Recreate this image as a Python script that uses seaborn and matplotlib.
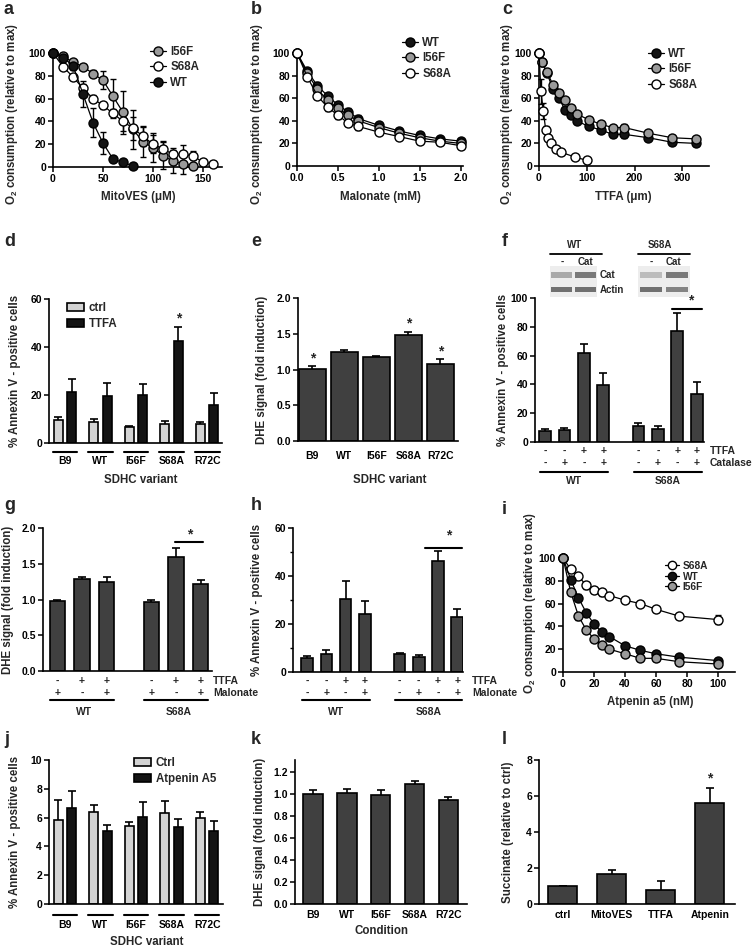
import numpy as np
import pandas as pd
import matplotlib
matplotlib.use("Agg")
import matplotlib.pyplot as plt
import seaborn as sns
from matplotlib.transforms import blended_transform_factory
from matplotlib.lines import Line2D
from matplotlib.patches import Patch, Rectangle

# ---------------- data ----------------
# a: MitoVES titration
a_wt_x = [0, 10, 20, 30, 40, 50, 60, 70, 80]
a_wt_y = [100, 96, 89, 64, 39, 21, 7, 4, 1]
a_wt_err = [0, 2, 4, 11, 13, 10, 2, 1, 1]
a_i56f_x = [0, 10, 20, 30, 40, 50, 60, 70, 80, 90, 100, 110, 120, 130, 140]
a_i56f_y = [100, 97, 92, 88, 82, 76, 62, 48, 33, 22, 17, 10, 5, 3, 1]
a_i56f_err = [0, 1, 2, 2, 3, 8, 15, 19, 17, 13, 13, 12, 10, 9, 2]
a_s68a_x = [0, 10, 20, 30, 40, 50, 60, 70, 80, 90, 100, 110, 120, 130, 140, 150, 160]
a_s68a_y = [100, 88, 79, 69, 60, 54, 47, 40, 34, 27, 20, 16, 11, 11, 10, 4, 3]
a_s68a_err = [0, 2, 3, 4, 3, 3, 4, 8, 10, 9, 8, 7, 6, 8, 4, 3, 2]

# b: Malonate titration
b_x = [0, 0.125, 0.25, 0.375, 0.5, 0.625, 0.75, 1.0, 1.25, 1.5, 1.75, 2.0]
b_wt_y = [100, 84, 71, 62, 54, 48, 42, 36, 31, 27, 24, 22]
b_i56f_y = [100, 82, 68, 58, 51, 45, 40, 34, 29, 25, 22, 20]
b_s68a_y = [100, 79, 62, 52, 45, 38, 35, 30, 26, 22, 21, 18]
b_err = [0, 2, 3, 3, 3, 3, 3, 2, 2, 2, 2, 2]

# c: TTFA titration
c_x = [0, 6, 17, 29, 42, 54, 67, 79, 104, 129, 154, 179, 229, 279, 329]
c_wt_y = [100, 92, 82, 68, 60, 50, 45, 40, 35, 32, 28, 28, 25, 21, 20]
c_i56f_y = [100, 92, 83, 72, 65, 58, 51, 46, 41, 37, 34, 34, 29, 25, 24]
c_err = [0, 2, 2, 2, 2, 2, 2, 2, 2, 2, 2, 3, 2, 2, 2]
c_s68a_x = [0, 4, 9, 14, 19, 25, 35, 47, 75, 100]
c_s68a_y = [100, 66, 49, 32, 25, 20, 15, 12, 8, 5]
c_s68a_err = [0, 11, 7, 3, 2, 2, 2, 1, 1, 1]

# d: Annexin V, ctrl vs TTFA
variants = ['B9', 'WT', 'I56F', 'S68A', 'R72C']
d_ctrl = [9.5, 8.8, 6.7, 8.1, 7.8]
d_ctrl_err = [1.2, 1.0, 0.5, 1.2, 0.8]
d_ttfa = [21.3, 19.4, 20.2, 42.5, 16.0]
d_ttfa_err = [5.2, 5.5, 4.2, 6.0, 5.0]

# e: DHE signal
e_vals = [1.01, 1.25, 1.18, 1.48, 1.08]
e_err = [0.04, 0.02, 0.01, 0.05, 0.07]
e_star = [True, False, False, True, True]

# f: Annexin V, TTFA / catalase
f_pos = [0, 1, 2, 3, 4.8, 5.8, 6.8, 7.8]
f_vals = [7.7, 8.1, 62, 39.5, 11.2, 9.3, 77.2, 33.3]
f_err = [1.6, 1.9, 6, 8.5, 2.1, 1.7, 12.3, 8.6]
f_ttfa = ['-', '-', '+', '+', '-', '-', '+', '+']
f_cat = ['-', '+', '-', '+', '-', '+', '-', '+']
blot_wt_cat = [0.45, 0.7]
blot_wt_actin = [0.75, 0.75]
blot_s68a_cat = [0.35, 0.7]
blot_s68a_actin = [0.75, 0.65]

# g: DHE, TTFA / malonate
g_pos = [0, 1, 2, 3.8, 4.8, 5.8]
g_vals = [0.98, 1.28, 1.24, 0.97, 1.60, 1.21]
g_err = [0.02, 0.03, 0.07, 0.02, 0.12, 0.06]
g_ttfa = ['-', '+', '+', '-', '+', '+']
g_mal = ['+', '-', '+', '+', '-', '+']

# h: Annexin V, TTFA / malonate
h_pos = [0, 1, 2, 3, 4.8, 5.8, 6.8, 7.8]
h_vals = [5.9, 7.7, 30.3, 24.1, 7.4, 6.3, 46.4, 23.0]
h_err = [0.7, 1.6, 7.6, 5.5, 0.5, 0.7, 3.9, 3.1]
h_ttfa = ['-', '-', '+', '+', '-', '-', '+', '+']
h_mal = ['-', '+', '-', '+', '-', '+', '-', '+']

# i: Atpenin A5 titration
i_x = [0, 5, 10, 15, 20, 25, 30, 40, 50, 60, 75, 100]
i_s68a_y = [100, 90, 84, 76, 72, 70, 67, 63, 60, 55, 49, 46]
i_wt_y = [100, 81, 65, 52, 42, 35, 31, 23, 19, 16, 13, 10]
i_i56f_y = [100, 70, 49, 37, 29, 24, 20, 16, 12, 12, 9, 7]
i_s68a_err = [0, 2, 2, 3, 3, 3, 2, 2, 2, 2, 2, 4]
i_err = [0, 2, 3, 2, 2, 2, 2, 2, 2, 2, 2, 2]

# j: Annexin V, ctrl vs Atpenin A5
j_ctrl = [5.8, 6.4, 5.4, 6.35, 5.95]
j_ctrl_err = [1.4, 0.5, 0.27, 0.8, 0.45]
j_atp = [6.7, 5.05, 6.05, 5.37, 5.05]
j_atp_err = [1.15, 0.45, 1.05, 0.5, 0.7]

# k: DHE, atpenin
k_vals = [1.00, 1.01, 0.99, 1.09, 0.945]
k_err = [0.035, 0.033, 0.05, 0.025, 0.024]

# l: succinate
l_cats = ['ctrl', 'MitoVES', 'TTFA', 'Atpenin']
l_vals = [1.0, 1.65, 0.78, 5.6]
l_err = [0.0, 0.24, 0.52, 0.86]
l_star = [False, False, False, True]

# ---------------- style ----------------
W, H = 754, 952
sns.set_theme(style='ticks')
plt.rcParams['font.family'] = ['Liberation Sans', 'DejaVu Sans']
plt.rcParams['font.weight'] = 'bold'
plt.rcParams['axes.labelweight'] = 'bold'
plt.rcParams['mathtext.fontset'] = 'custom'
plt.rcParams['mathtext.rm'] = 'Liberation Sans:bold'
plt.rcParams['mathtext.bf'] = 'Liberation Sans:bold'
plt.rcParams['mathtext.it'] = 'Liberation Sans:bold'

FS = 7.5      # tick labels
LFS = 8.3     # axis labels
DARK = '#404040'
LIGHT = '#d3d3d3'
BLACK = '#141414'
GRAY = '#9a9a9a'

fig = plt.figure(figsize=(W / 100, H / 100), dpi=100)


def rect(x0, top, x1, bottom):
    return [x0 / W, 1 - bottom / H, (x1 - x0) / W, (bottom - top) / H]


def fx(px):
    return px / W


def fy(py):
    return 1 - py / H


def style(ax):
    for s in ['top', 'right']:
        ax.spines[s].set_visible(False)
    for s in ['left', 'bottom']:
        ax.spines[s].set_linewidth(1.2)
        ax.spines[s].set_color('black')
    ax.tick_params(axis='both', which='major', length=3.5, width=1.1,
                   labelsize=FS, pad=1.5, colors='black', direction='out')
    ax.set_facecolor('none')


def ylab(ax, text, px, py, fs=LFS):
    ax.set_ylabel(text, fontsize=fs, fontweight='bold')
    ax.yaxis.set_label_coords(fx(px), fy(py), transform=fig.transFigure)
    ax.yaxis.label.set_va('center')


def xlab(ax, text, px, py):
    ax.set_xlabel(text, fontsize=LFS, fontweight='bold')
    ax.xaxis.set_label_coords(fx(px), fy(py), transform=fig.transFigure)
    ax.xaxis.label.set_va('center')


def curve(ax, x, y, err, fc, label):
    ax.errorbar(x, y, yerr=err, fmt='none', ecolor='black', elinewidth=1.0,
                capsize=2.5, capthick=1.0, zorder=2, clip_on=False)
    sns.lineplot(x=x, y=y, ax=ax, color='black', lw=0.9, marker='o', markersize=6.5,
                 markerfacecolor=fc, markeredgecolor='black', markeredgewidth=1.0,
                 label=label, zorder=3, clip_on=False, legend=False)


def line_legend(ax, names, fcs, px, py, fs=8.3, spacing=0.3, ms=6.5):
    hs = [Line2D([], [], color='black', lw=0.9, marker='o', ms=ms, mfc=fc,
                 mec='black', mew=1.0) for fc in fcs]
    ax.legend(hs, names, loc='upper left', bbox_to_anchor=(fx(px), fy(py)),
              bbox_transform=fig.transFigure, frameon=False, fontsize=fs,
              handlelength=1.4, handletextpad=0.35, labelspacing=spacing,
              borderpad=0, borderaxespad=0)


def bars(ax, pos, vals, errs, width):
    df = pd.DataFrame({'x': pos, 'y': vals})
    sns.barplot(data=df, x='x', y='y', ax=ax, native_scale=True, width=width,
                color=DARK, edgecolor='black', linewidth=1.2, errorbar=None,
                saturation=1)
    ax.errorbar(pos, vals, yerr=errs, fmt='none', ecolor='black', elinewidth=1.2,
                capsize=3, capthick=1.2, zorder=0.5)
    ax.set_xlabel('')
    ax.set_ylabel('')


def grouped(ax, cats, names, v1, e1, v2, e2, colors):
    df = pd.DataFrame({'cat': cats * 2,
                       'grp': [names[0]] * len(cats) + [names[1]] * len(cats),
                       'val': v1 + v2})
    sns.barplot(data=df, x='cat', y='val', hue='grp', order=cats, hue_order=names,
                palette=colors, width=0.76, gap=0.33, edgecolor='black',
                linewidth=1.2, errorbar=None, saturation=1, legend=False, ax=ax)
    conts = list(ax.containers)[:2]
    for cont, vals, errs in zip(conts, [v1, v2], [e1, e2]):
        xs = [p.get_x() + p.get_width() / 2 for p in cont]
        ax.errorbar(xs, vals, yerr=errs, fmt='none', ecolor='black', elinewidth=1.2,
                    capsize=3, capthick=1.2, zorder=0.5)
    ax.set_xlabel('')
    ax.set_ylabel('')


def underline_groups(ax, centers, half, py, lw=1.5):
    tr = blended_transform_factory(ax.transData, fig.transFigure)
    for c in centers:
        ax.plot([c - half, c + half], [fy(py), fy(py)], color='black', lw=lw,
                transform=tr, clip_on=False)


def sign_rows(ax, pos, rows, names, ys, name_x):
    tr = blended_transform_factory(ax.transData, fig.transFigure)
    for row, py, nm in zip(rows, ys, names):
        for p, s in zip(pos, row):
            ax.text(p, fy(py), s, transform=tr, ha='center', va='center',
                    fontsize=FS, fontweight='bold')
        fig.text(fx(name_x), fy(py), nm, ha='left', va='center', fontsize=FS,
                 fontweight='bold')


def sig(ax, x0, x1, y, ystar, xstar):
    ax.plot([x0, x1], [y, y], color='black', lw=1.5, clip_on=False)
    ax.text(xstar, ystar, '*', ha='center', va='center', fontsize=10,
            fontweight='bold', clip_on=False)


def letter(t, px, py):
    fig.text(fx(px), fy(py), t, fontsize=13, fontweight='bold', ha='left', va='center')


O2 = 'O$_{2}$ consumption (relative to max)'
ANX = '% Annexin V - positive cells'
DHE = 'DHE signal (fold induction)'

# ---------------- panel a ----------------
ax = fig.add_axes(rect(53, 53, 222, 167))
curve(ax, a_i56f_x, a_i56f_y, a_i56f_err, GRAY, 'I56F')
curve(ax, a_s68a_x, a_s68a_y, a_s68a_err, 'white', 'S68A')
curve(ax, a_wt_x, a_wt_y, a_wt_err, BLACK, 'WT')
ax.set_xlim(0, 169)
ax.set_ylim(0, 100)
ax.set_xticks([0, 50, 100, 150])
ax.set_yticks(range(0, 101, 20))
style(ax)
xlab(ax, 'MitoVES (\u03bcM)', 138, 197)
ylab(ax, O2, 12, 114)
line_legend(ax, ['I56F', 'S68A', 'WT'], [GRAY, 'white', BLACK], 150, 46)
letter('a', 4, 9)

# ---------------- panel b ----------------
ax = fig.add_axes(rect(297, 53, 463, 166))
curve(ax, b_x, b_wt_y, b_err, BLACK, 'WT')
curve(ax, b_x, b_i56f_y, b_err, GRAY, 'I56F')
curve(ax, b_x, b_s68a_y, b_err, 'white', 'S68A')
ax.set_xlim(0, 2.03)
ax.set_ylim(0, 100)
ax.set_xticks([0, 0.5, 1.0, 1.5, 2.0], ['0.0', '0.5', '1.0', '1.5', '2.0'])
ax.set_yticks(range(0, 101, 20))
style(ax)
xlab(ax, 'Malonate (mM)', 380, 197)
ylab(ax, O2, 257, 114)
line_legend(ax, ['WT', 'I56F', 'S68A'], [BLACK, GRAY, 'white'], 402, 37)
letter('b', 251, 9)

# ---------------- panel c ----------------
ax = fig.add_axes(rect(539, 53, 709, 166))
curve(ax, c_x, c_wt_y, c_err, BLACK, 'WT')
curve(ax, c_x, c_i56f_y, c_err, GRAY, 'I56F')
curve(ax, c_s68a_x, c_s68a_y, c_s68a_err, 'white', 'S68A')
ax.set_xlim(0, 356)
ax.set_ylim(0, 100)
ax.set_xticks([0, 100, 200, 300])
ax.set_yticks(range(0, 101, 20))
style(ax)
xlab(ax, 'TTFA (\u03bcm)', 623, 197)
ylab(ax, O2, 507, 114)
line_legend(ax, ['WT', 'I56F', 'S68A'], [BLACK, GRAY, 'white'], 648, 48)
letter('c', 502, 9)

# ---------------- panel d ----------------
ax = fig.add_axes(rect(49, 299, 222, 443))
grouped(ax, variants, ['ctrl', 'TTFA'], d_ctrl, d_ctrl_err, d_ttfa, d_ttfa_err,
        [LIGHT, BLACK])
ax.set_xlim(-0.45, 4.42)
ax.set_ylim(0, 60)
ax.set_yticks([0, 20, 40, 60])
style(ax)
ax.set_xticks(range(5), variants)
ax.tick_params(axis='x', length=0, pad=9)
underline_groups(ax, range(5), 0.35, 452)
i_s = variants.index('S68A')
ax.text(i_s + 0.19, d_ttfa[i_s] + d_ttfa_err[i_s] + 0.5, '*', ha='center', va='bottom',
        fontsize=10, fontweight='bold')
xlab(ax, 'SDHC variant', 141, 480)
ylab(ax, ANX, 15, 371)
ax.legend([Patch(fc=LIGHT, ec='black', lw=1.2), Patch(fc=BLACK, ec='black', lw=1.2)],
          ['ctrl', 'TTFA'], loc='upper left', bbox_to_anchor=(fx(67), fy(302)),
          bbox_transform=fig.transFigure, frameon=False, fontsize=8.3,
          handlelength=1.5, handleheight=0.8, handletextpad=0.4, labelspacing=0.35,
          borderpad=0, borderaxespad=0)
letter('d', 4, 242)

# ---------------- panel e ----------------
ax = fig.add_axes(rect(298, 298, 458, 441))
e_pos = list(range(5))
bars(ax, e_pos, e_vals, e_err, 0.82)
ax.set_xlim(-0.45, 4.55)
ax.set_ylim(0, 2)
ax.set_yticks([0, 0.5, 1.0, 1.5, 2.0], ['0.0', '0.5', '1.0', '1.5', '2.0'])
style(ax)
ax.set_xticks(e_pos, variants)
ax.tick_params(axis='x', length=0, pad=7)
for p, v, e, s in zip(e_pos, e_vals, e_err, e_star):
    if s:
        ax.text(p, v + e + 0.01, '*', ha='center', va='bottom', fontsize=10,
                fontweight='bold')
xlab(ax, 'SDHC variant', 390, 480)
ylab(ax, DHE, 262, 370)
letter('e', 251, 242)

# ---------------- panel f ----------------
ax = fig.add_axes(rect(535, 298, 704, 442))
bars(ax, f_pos, f_vals, f_err, 0.6)
ax.set_xlim(-0.51, 8.17)
ax.set_ylim(0, 100)
ax.set_yticks(range(0, 101, 20))
style(ax)
ax.set_xticks([])
sign_rows(ax, f_pos, [f_ttfa, f_cat], ['TTFA', 'Catalase'], [451, 463], 710)
underline_groups(ax, [1.5, 6.3], 1.75, 472)
tr = blended_transform_factory(ax.transData, fig.transFigure)
ax.text(1.5, fy(481), 'WT', transform=tr, ha='center', va='center', fontsize=FS)
ax.text(6.3, fy(481), 'S68A', transform=tr, ha='center', va='center', fontsize=FS)
sig(ax, f_pos[6] - 0.25, f_pos[7] + 0.25, f_vals[6] + f_err[6] + 3,
    f_vals[6] + f_err[6] + 9, 7.5)
ylab(ax, ANX, 503, 370)
letter('f', 502, 242)


# western blot insets
def blot(x0, x1, top, bottom, cat, actin):
    bax = fig.add_axes(rect(x0, top, x1, bottom))
    bax.set_xlim(0, 2)
    bax.set_ylim(0, 2)
    bax.axis('off')
    bax.add_patch(Rectangle((0, 0), 2, 2, fc='#ededed', ec='none'))
    for k, (c, a) in enumerate(zip(cat, actin)):
        g1 = 1 - 0.75 * c
        g2 = 1 - 0.75 * a
        bax.add_patch(Rectangle((k + 0.06, 1.25), 0.88, 0.34, fc=(g1, g1, g1), ec='none'))
        bax.add_patch(Rectangle((k + 0.06, 0.3), 0.88, 0.32, fc=(g2, g2, g2), ec='none'))


blot(550, 597, 266, 297, blot_wt_cat, blot_wt_actin)
blot(638, 690, 266, 297, blot_s68a_cat, blot_s68a_actin)
for cx, nm, x0, x1, l1, l2 in [(575, 'WT', 550, 602, 562, 585),
                               (660, 'S68A', 638, 690, 651, 673)]:
    fig.text(fx(cx), fy(245), nm, ha='center', va='center', fontsize=7)
    fig.add_artist(Line2D([fx(x0), fx(x1)], [fy(254), fy(254)], color='black', lw=1.3))
    fig.text(fx(l1), fy(262), '-', ha='center', va='center', fontsize=7)
    fig.text(fx(l2), fy(262), 'Cat', ha='center', va='center', fontsize=7)
fig.text(fx(600), fy(275), 'Cat', ha='left', va='center', fontsize=7)
fig.text(fx(600), fy(290), 'Actin', ha='left', va='center', fontsize=7)

# ---------------- panel g ----------------
ax = fig.add_axes(rect(43, 528, 212, 671))
bars(ax, g_pos, g_vals, g_err, 0.62)
ax.set_xlim(-0.58, 6.26)
ax.set_ylim(0, 2)
ax.set_yticks([0, 0.5, 1.0, 1.5, 2.0], ['0.0', '0.5', '1.0', '1.5', '2.0'])
style(ax)
ax.set_xticks([])
sign_rows(ax, g_pos, [g_ttfa, g_mal], ['TTFA', 'Malonate'], [681, 693], 213)
underline_groups(ax, [1.0, 4.8], 1.3, 700)
tr = blended_transform_factory(ax.transData, fig.transFigure)
ax.text(1.1, fy(712), 'WT', transform=tr, ha='center', va='center', fontsize=FS)
ax.text(4.9, fy(712), 'S68A', transform=tr, ha='center', va='center', fontsize=FS)
sig(ax, g_pos[4] - 0.03, g_pos[5] + 0.1, g_vals[4] + g_err[4] + 0.09,
    g_vals[4] + g_err[4] + 0.19, 5.35)
ylab(ax, DHE, 8, 600)
letter('g', 4, 505)

# ---------------- panel h ----------------
ax = fig.add_axes(rect(293, 528, 463, 672))
bars(ax, h_pos, h_vals, h_err, 0.6)
ax.set_xlim(-0.74, 8.1)
ax.set_ylim(0, 60)
ax.set_yticks([0, 20, 40, 60])
ax.set_yticks([10, 30, 50], minor=True)
style(ax)
ax.tick_params(axis='y', which='minor', length=2, width=1.0, colors='black')
ax.set_xticks([])
sign_rows(ax, h_pos, [h_ttfa, h_mal], ['TTFA', 'Malonate'], [681, 693], 472)
underline_groups(ax, [1.5, 6.3], 1.75, 700)
tr = blended_transform_factory(ax.transData, fig.transFigure)
ax.text(1.5, fy(712), 'WT', transform=tr, ha='center', va='center', fontsize=FS)
ax.text(6.3, fy(712), 'S68A', transform=tr, ha='center', va='center', fontsize=FS)
sig(ax, h_pos[6] - 0.7, h_pos[7] + 0.25, h_vals[6] + h_err[6] + 1.5,
    h_vals[6] + h_err[6] + 6.5, 7.35)
ylab(ax, ANX, 257, 600)
letter('h', 251, 505)

# ---------------- panel i ----------------
ax = fig.add_axes(rect(563, 558, 735, 672))
curve(ax, i_x, i_s68a_y, i_s68a_err, 'white', 'S68A')
curve(ax, i_x, i_wt_y, i_err, BLACK, 'WT')
curve(ax, i_x, i_i56f_y, i_err, GRAY, 'I56F')
ax.set_xlim(0, 111)
ax.set_ylim(0, 100)
ax.set_xticks(range(0, 101, 20))
ax.set_yticks(range(0, 101, 20))
style(ax)
xlab(ax, 'Atpenin a5 (nM)', 650, 702)
ylab(ax, O2, 530, 603)
line_legend(ax, ['S68A', 'WT', 'I56F'], ['white', BLACK, GRAY], 665, 561,
            fs=7.3, spacing=0.05, ms=6)
letter('i', 502, 510)

# ---------------- panel j ----------------
ax = fig.add_axes(rect(49, 760, 223, 904))
grouped(ax, variants, ['Ctrl', 'Atpenin A5'], j_ctrl, j_ctrl_err, j_atp, j_atp_err,
        [LIGHT, BLACK])
ax.set_xlim(-0.45, 4.45)
ax.set_ylim(0, 10)
ax.set_yticks(range(0, 11, 2))
style(ax)
ax.set_xticks(range(5), variants)
ax.tick_params(axis='x', length=0, pad=11.5)
underline_groups(ax, range(5), 0.35, 915)
xlab(ax, 'SDHC variant', 147, 942)
ylab(ax, ANX, 15, 832)
ax.legend([Patch(fc=LIGHT, ec='black', lw=1.2), Patch(fc=BLACK, ec='black', lw=1.2)],
          ['Ctrl', 'Atpenin A5'], loc='upper left', bbox_to_anchor=(fx(134), fy(757)),
          bbox_transform=fig.transFigure, frameon=False, fontsize=8.3,
          handlelength=1.5, handleheight=0.8, handletextpad=0.4, labelspacing=0.35,
          borderpad=0, borderaxespad=0)
letter('j', 4, 740)

# ---------------- panel k ----------------
ax = fig.add_axes(rect(295, 760, 467, 904))
k_pos = list(range(5))
bars(ax, k_pos, k_vals, k_err, 0.58)
ax.set_xlim(-0.53, 4.55)
ax.set_ylim(0, 1.31)
ax.set_yticks([0, 0.2, 0.4, 0.6, 0.8, 1.0, 1.2],
              ['0.0', '0.2', '0.4', '0.6', '0.8', '1.0', '1.2'])
style(ax)
ax.set_xticks(k_pos, variants)
ax.tick_params(axis='x', length=0, pad=4.3)
xlab(ax, 'Condition', 382, 931)
ylab(ax, DHE, 260, 832)
letter('k', 251, 740)

# ---------------- panel l ----------------
ax = fig.add_axes(rect(539, 760, 735, 904))
l_pos = list(range(4))
bars(ax, l_pos, l_vals, l_err, 0.59)
ax.set_xlim(-0.48, 3.51)
ax.set_ylim(0, 8)
ax.set_yticks(range(0, 9, 2))
style(ax)
ax.set_xticks(l_pos, l_cats)
ax.tick_params(axis='x', length=0, pad=4.3)
for p, v, e, s in zip(l_pos, l_vals, l_err, l_star):
    if s:
        ax.text(p, v + e + 0.1, '*', ha='center', va='bottom', fontsize=10,
                fontweight='bold')
ylab(ax, 'Succinate (relative to ctrl)', 508, 832)
letter('l', 502, 740)

fig.savefig('out.png', dpi=100)
